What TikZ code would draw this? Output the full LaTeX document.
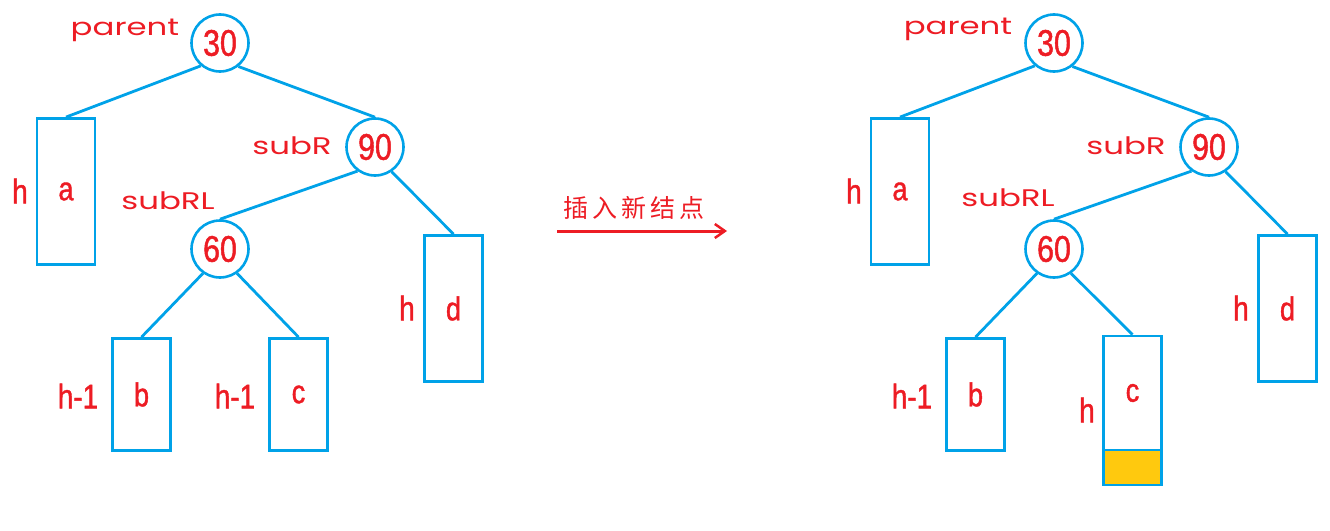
\documentclass[tikz,border=0pt]{standalone}
\usepackage{fontspec}
\setmainfont{Liberation Sans}
\newfontfamily\narrowf[FakeStretch=0.82,FakeBold=1.2]{Liberation Sans}
\newfontfamily\widef[FakeStretch=1.35]{Poppins}
\newfontfamily\cjk[LetterSpace=16]{Noto Sans CJK SC}
\usetikzlibrary{arrows.meta}
\definecolor{pblue}{RGB}{0,162,232}
\definecolor{pred}{RGB}{237,28,36}
\definecolor{pgold}{RGB}{255,201,14}
\tikzset{
  circ/.style={circle,draw=pblue,line width=2.6pt,minimum size=57pt,inner sep=0pt,fill=white,
    text=pred,font=\narrowf\fontsize{37}{42}\selectfont},
  tallbox/.style={rectangle,draw=pblue,line width=2.8pt,minimum width=58pt,minimum height=146pt,inner sep=0pt,
    text=pred,font=\narrowf\fontsize{33}{38}\selectfont},
  shortbox/.style={tallbox,minimum height=112pt},
  goldbox/.style={rectangle,draw=pblue,fill=pgold,line width=2.8pt,minimum width=58pt,minimum height=35pt,inner sep=0pt},
  edge/.style={draw=pblue,line width=2.8pt},
  hlab/.style={text=pred,font=\narrowf\fontsize{34}{38}\selectfont,inner sep=0pt},
  wlab/.style={text=pred,font=\widef\fontsize{24}{27}\selectfont,inner sep=0pt},
}
\begin{document}
\begin{tikzpicture}[x=1pt,y=-1pt]
\useasboundingbox (0,0) rectangle (1330,530);
% ---------- left tree ----------
\node[circ] (L30) at (220,43) {30};
\node[circ] (L90) at (375,147) {90};
\node[circ] (L60) at (220,249) {60};
\node[tallbox] (La) at (66,191.5) {a};
\node[shortbox] (Lb) at (141.5,394.5) {b};
\node[shortbox] (Lc) at (298.5,394.5) {c};
\node[tallbox] (Ld) at (453.5,308.5) {d};
\draw[edge] (L30.-130) -- (La.north);
\draw[edge] (L30.-52) -- (L90.north);
\draw[edge] (L90.-126) -- (L60.north);
\draw[edge] (L90.-56) -- (Ld.north);
\draw[edge] (L60.-125) -- (Lb.north);
\draw[edge] (L60.-55) -- (Lc.north);
\node[wlab] (Lparent) at (125,30) {parent};
\node[wlab] (LsubR) at (292,146) {subR};
\node[wlab] (LsubRL) at (168,201) {subRL};
\node[hlab] (Lha) at (20,191) {h};
\node[hlab] (Lhd) at (407,308) {h};
\node[hlab] (Lhb) at (78,396) {h-1};
\node[hlab] (Lhc) at (235,396) {h-1};
% ---------- arrow ----------
\coordinate (As) at (557,231);
\coordinate (Ae) at (727,231);
\draw[draw=pred,line width=3pt,-{Straight Barb[length=10pt,width=14pt,line width=2.5pt]}] (As) -- (Ae);
\node[text=pred,font=\cjk\fontsize{25}{29}\selectfont,inner sep=0pt] (Atxt) at (634,208) {插入新结点};
% ---------- right tree ----------
\node[circ] (R30) at (1054,43) {30};
\node[circ] (R90) at (1209,147) {90};
\node[circ] (R60) at (1054,249) {60};
\node[tallbox] (Ra) at (900,191.5) {a};
\node[shortbox] (Rb) at (975.5,394.5) {b};
\node[shortbox,minimum height=114pt] (Rc) at (1132.5,393) {c};
\node[goldbox,anchor=north] (Rnew) at ([yshift=2.8pt]Rc.south) {};
\node[tallbox] (Rd) at (1287.5,308.5) {d};
\draw[edge] (R30.-130) -- (Ra.north);
\draw[edge] (R30.-52) -- (R90.north);
\draw[edge] (R90.-126) -- (R60.north);
\draw[edge] (R90.-56) -- (Rd.north);
\draw[edge] (R60.-125) -- (Rb.north);
\draw[edge] (R60.-55) -- (Rc.north);
\node[wlab] (Rparent) at (958,29) {parent};
\node[wlab] (RsubR) at (1126,146) {subR};
\node[wlab] (RsubRL) at (1008,198) {subRL};
\node[hlab] (Rha) at (854,191) {h};
\node[hlab] (Rhd) at (1241,308) {h};
\node[hlab] (Rhb) at (912,396) {h-1};
\node[hlab] (Rhc) at (1087,410) {h};
\end{tikzpicture}
\end{document}
